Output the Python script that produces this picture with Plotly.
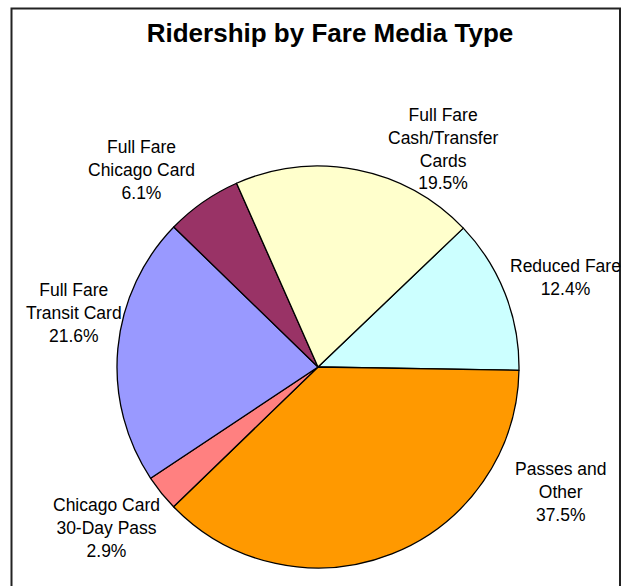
import plotly.graph_objects as go

# Data
categories = [
    "Reduced Fare",
    "Passes and<br>Other",
    "Chicago Card<br>30-Day Pass",
    "Full Fare<br>Transit Card",
    "Full Fare<br>Chicago Card",
    "Full Fare<br>Cash/Transfer<br>Cards",
]
shares = [12.4, 37.5, 2.9, 21.6, 6.1, 19.5]
colors = ["#CCFFFF", "#FF9900", "#FF8080", "#9999FF", "#993366", "#FFFFCC"]

# label block centres in pixels (layout)
label_px = [(565, 277.5), (560.5, 492), (106.5, 528), (74, 313), (141.5, 169.5), (443, 148.5)]

W, H = 622, 586
cx, cy, r = 318, 367, 201

fig = go.Figure(go.Pie(
    labels=categories,
    values=shares,
    sort=False,
    direction="clockwise",
    rotation=46.3,
    marker=dict(colors=colors, line=dict(color="#000000", width=1.3)),
    textinfo="none",
    hoverinfo="label+percent",
    showlegend=False,
    domain=dict(x=[(cx - r) / W, (cx + r) / W], y=[(H - cy - r) / H, (H - cy + r) / H]),
))

font_family = "Arial, Liberation Sans, sans-serif"
annotations = []
for lab, val, (px, py) in zip(categories, shares, label_px):
    annotations.append(dict(
        x=px / W, y=1 - py / H, xref="paper", yref="paper",
        text=f"{lab}<br>{val:.1f}%", showarrow=False,
        xanchor="center", yanchor="middle", align="center",
        font=dict(family=font_family, size=17.5, color="#000000"),
    ))

fig.update_layout(
    width=W, height=H,
    margin=dict(l=0, r=0, t=0, b=0),
    paper_bgcolor="#FFFFFF", plot_bgcolor="#FFFFFF",
    title=dict(text="<b>Ridership by Fare Media Type</b>", x=330 / W, y=1 - 33 / H,
               xanchor="center", yanchor="middle",
               font=dict(family=font_family, size=26, color="#000000")),
    annotations=annotations,
    shapes=[dict(type="rect", xref="paper", yref="paper",
                 x0=11.5 / W, x1=620 / W, y0=-0.05, y1=1 - 8.5 / H,
                 line=dict(color="#222222", width=2))],
)

fig.write_html("out.html", config={"displayModeBar": False},
               post_script="document.body.style.margin='0';")
